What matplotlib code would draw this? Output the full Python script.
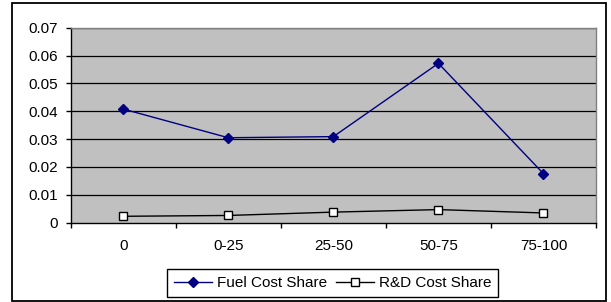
import matplotlib.pyplot as plt
import matplotlib.patches as patches
import numpy as np

plt.rcParams['font.family'] = ['Liberation Sans', 'DejaVu Sans']

# Data
categories = ['0', '0-25', '25-50', '50-75', '75-100']
fuel_share = [0.0408, 0.0305, 0.0309, 0.0572, 0.0176]
rd_share = [0.0023, 0.0026, 0.0038, 0.0047, 0.0035]
y_ticks = [0, 0.01, 0.02, 0.03, 0.04, 0.05, 0.06, 0.07]
y_labels = ['0', '0.01', '0.02', '0.03', '0.04', '0.05', '0.06', '0.07']

W, H = 611, 302
fig = plt.figure(figsize=(W / 100, H / 100), dpi=100)
ax = fig.add_axes([70.7 / W, 1 - 222.7 / H, (596 - 70.7) / W, (222.7 - 27.7) / H])

x = np.arange(len(categories))

# Outer chart border
fig.patches.append(patches.Rectangle((12 / W, 1 - 301 / H), 594 / W, 298 / H,
                                     transform=fig.transFigure, fill=False,
                                     edgecolor='black', linewidth=1.3))

ax.set_facecolor('#C0C0C0')
for y in y_ticks[1:]:
    ax.axhline(y, color='black', linewidth=0.9, zorder=1)

ax.plot(x, fuel_share, color='#000080', linewidth=1, marker='D', markersize=5.5,
        markerfacecolor='#000080', markeredgecolor='#000080', label='Fuel Cost Share', zorder=3)
ax.plot(x, rd_share, color='black', linewidth=1, marker='s', markersize=6,
        markerfacecolor='white', markeredgecolor='black', label='R&D Cost Share', zorder=3)

ax.set_xlim(-0.5, len(categories) - 0.5)
ax.set_ylim(0, 0.07)

fs = 11
ax.set_yticks(y_ticks)
ax.set_yticklabels(y_labels, fontsize=fs)
ax.set_xticks(x)
ax.set_xticklabels(categories, fontsize=fs)
ax.set_xticks(np.arange(-0.5, len(categories), 1), minor=True)
ax.tick_params(axis='x', which='major', length=0, pad=12)
ax.tick_params(axis='x', which='minor', length=3.5, direction='out', width=1)
ax.tick_params(axis='y', length=3.5, direction='out', width=1, pad=5.5)

ax.spines['left'].set_color('black')
ax.spines['bottom'].set_color('black')
ax.spines['top'].set_color('#808080')
ax.spines['right'].set_color('#808080')
for s in ax.spines.values():
    s.set_linewidth(1)

leg = ax.legend(loc='lower center', bbox_to_anchor=(332.5 / W, 5 / H),
                bbox_transform=fig.transFigure, ncol=2, fontsize=fs,
                frameon=True, fancybox=False, edgecolor='black', framealpha=1,
                handlelength=2.5, handletextpad=0.3, columnspacing=0.6,
                borderpad=0.45, borderaxespad=0)
leg.get_frame().set_linewidth(1)

plt.savefig('out.png', dpi=100)
